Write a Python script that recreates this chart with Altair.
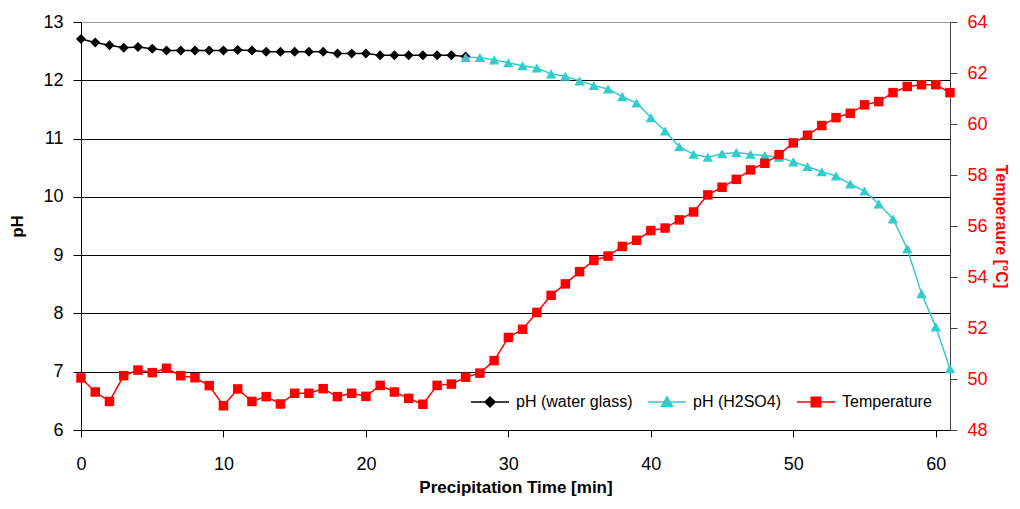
import altair as alt
import pandas as pd

# ---- data ----
time_water = list(range(0, 28))
ph_water = [12.71, 12.65, 12.60, 12.56, 12.57, 12.54, 12.51, 12.51, 12.51, 12.51,
            12.51, 12.52, 12.51, 12.49, 12.49, 12.49, 12.49, 12.49, 12.46, 12.46,
            12.46, 12.43, 12.43, 12.43, 12.43, 12.43, 12.43, 12.41]

time_acid = list(range(27, 62))
ph_acid = [12.39, 12.39, 12.35, 12.30, 12.25, 12.21, 12.11, 12.07, 11.99, 11.91,
           11.85, 11.72, 11.61, 11.36, 11.13, 10.86, 10.73, 10.68, 10.74, 10.76,
           10.73, 10.71, 10.68, 10.60, 10.52, 10.43, 10.36, 10.22, 10.10, 9.88,
           9.62, 9.11, 8.34, 7.77, 7.05]

time_temp = list(range(0, 62))
temperature = [50.04, 49.49, 49.12, 50.13, 50.35, 50.25, 50.42, 50.13, 50.05, 49.74,
               48.95, 49.61, 49.12, 49.31, 49.02, 49.44, 49.44, 49.62, 49.31, 49.44,
               49.32, 49.75, 49.49, 49.24, 49.01, 49.75, 49.80, 50.07, 50.23, 50.72,
               51.63, 51.95, 52.61, 53.28, 53.73, 54.21, 54.65, 54.82, 55.20, 55.44,
               55.82, 55.92, 56.24, 56.55, 57.22, 57.52, 57.83, 58.20, 58.46, 58.80,
               59.26, 59.56, 59.94, 60.25, 60.42, 60.75, 60.88, 61.23, 61.47, 61.54,
               61.54, 61.23]

series_names = ["pH (water glass)", "pH (H2SO4)", "Temperature"]
series_colors = ["#000000", "#33CCCC", "#FF0000"]
# legend symbols: short line with the series marker on it
legend_paths = [
    "M-1,0H6.6M2.8,-1L3.8,0L2.8,1L1.8,0Z",
    "M-1,0H6.6M2.8,-1.05L3.9,0.85L1.7,0.85Z",
    "M-1,0H6.6M1.85,-0.95H3.75V0.95H1.85Z",
]

x_ticks = [0, 10, 20, 30, 40, 50, 60]
ph_ticks = [6, 7, 8, 9, 10, 11, 12, 13]
temp_ticks = [48, 50, 52, 54, 56, 58, 60, 62, 64]

FONT = "Liberation Sans"

df_w = pd.DataFrame({"t": time_water, "v": ph_water})
df_a = pd.DataFrame({"t": time_acid, "v": ph_acid})
df_t = pd.DataFrame({"t": time_temp, "v": temperature})
df_leg = pd.DataFrame({"series": series_names})

x_enc = alt.X(
    "t:Q",
    scale=alt.Scale(domain=[0, 61], nice=False, zero=False),
    axis=alt.Axis(
        values=x_ticks, title="Precipitation Time [min]", grid=False,
        labelFont=FONT, labelFontSize=18, labelColor="black",
        titleFont=FONT, titleFontSize=17, titleFontWeight="bold", titleColor="black",
        domainColor="black", tickColor="black", tickSize=7, labelPadding=18,
        titlePadding=6, labelFlush=False,
    ),
)

y_ph = alt.Y(
    "v:Q",
    scale=alt.Scale(domain=[6, 13], nice=False, zero=False),
    axis=alt.Axis(
        values=ph_ticks, title="pH", orient="left",
        grid=True,
        gridColor={"condition": {"test": "datum.value == 13", "value": "#9a9a9a"}, "value": "black"},
        gridWidth=1,
        labelFont=FONT, labelFontSize=18, labelColor="black",
        titleFont=FONT, titleFontSize=17, titleFontWeight="bold", titleColor="black",
        domainColor="black", tickColor="black", tickSize=8, labelPadding=10,
        titlePadding=16,
    ),
)

y_temp = alt.Y(
    "v:Q",
    scale=alt.Scale(domain=[48, 64], nice=False, zero=False),
    axis=alt.Axis(
        values=temp_ticks, title="Temperaure [°C]", orient="right", grid=False,
        labelFont=FONT, labelFontSize=18, labelColor="#FF0000",
        titleFont=FONT, titleFontSize=16, titleFontWeight="bold", titleColor="#FF0000",
        domainColor="#404040", tickColor="#404040", tickSize=7, labelPadding=10,
        titlePadding=5,
    ),
)

black_line = alt.Chart(df_w).mark_line(color="#000000", strokeWidth=1.5).encode(x=x_enc, y=y_ph)
black_pts = alt.Chart(df_w).mark_point(
    shape="diamond", filled=True, color="#000000", size=100, opacity=1
).encode(x=x_enc, y=y_ph)

cyan_line = alt.Chart(df_a).mark_line(color="#33CCCC", strokeWidth=1.5).encode(x=x_enc, y=y_ph)
cyan_pts = alt.Chart(df_a).mark_point(
    shape="triangle-up", filled=True, color="#33CCCC", size=110, opacity=1
).encode(x=x_enc, y=y_ph)

red_line = alt.Chart(df_t).mark_line(color="#FF0000", strokeWidth=1.5).encode(x=x_enc, y=y_temp)
red_pts = alt.Chart(df_t).mark_square(
    filled=True, color="#FF0000", size=90, opacity=1
).encode(x=x_enc, y=y_temp)

leg = alt.Legend(
    orient="none", legendX=387, legendY=372, direction="horizontal", title=None,
    labelFont=FONT, labelFontSize=16, labelColor="black", labelOffset=32,
    columnPadding=12, symbolSize=100, symbolStrokeWidth=1.5, padding=0,
    labelLimit=300,
)
legend_layer = alt.Chart(df_leg).transform_filter("false").mark_point(
    filled=True, size=100, strokeWidth=1.5, opacity=1
).encode(
    color=alt.Color("series:N", scale=alt.Scale(domain=series_names, range=series_colors), legend=leg),
    stroke=alt.Stroke("series:N", scale=alt.Scale(domain=series_names, range=series_colors), legend=leg),
    shape=alt.Shape("series:N", scale=alt.Scale(domain=series_names, range=legend_paths), legend=leg),
)

left = alt.layer(black_line, black_pts, cyan_line, cyan_pts)
right = alt.layer(red_line, red_pts)

chart = (
    alt.layer(left, right, legend_layer)
    .resolve_scale(y="independent")
    .properties(
        width=869, height=408,
        autosize=alt.AutoSizeParams(type="none"),
        padding={"left": 73, "top": 14, "right": 62, "bottom": 70},
        background="white",
    )
    .configure_view(strokeWidth=0)
)

chart.save("out.html", embed_options={"renderer": "svg", "actions": False})
